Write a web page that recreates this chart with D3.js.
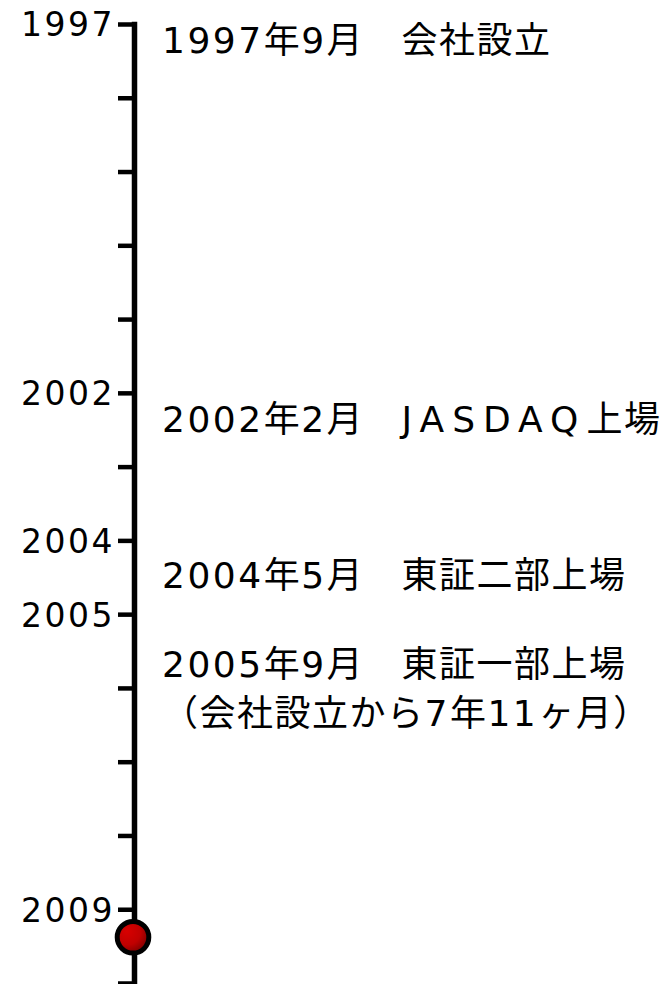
<!DOCTYPE html>
<html>
<head>
<meta charset="utf-8">
<script src="https://cdn.jsdelivr.net/npm/d3@7"></script>
<style>
  html, body { margin: 0; padding: 0; background: #fff; }
  svg { display: block; }
</style>
</head>
<body>
<svg id="chart" width="664" height="984"></svg>
<script>
// ---- data ----
const tickYears = [1997, 1998, 1999, 2000, 2001, 2002, 2003, 2004, 2005, 2006, 2007, 2008, 2009, 2010];
const labeledYears = [1997, 2002, 2004, 2005, 2009];
const eventLabels = [
  ["1997年9月　会社設立"],
  ["2002年2月　JASDAQ上場"],
  ["2004年5月　東証二部上場"],
  ["2005年9月　東証一部上場", "（会社設立から7年11ヶ月）"]
];
const eventPositions = [1997.39, 2002.53, 2004.65, 2005.85]; // text baseline, in axis years
const currentPosition = 2009.38;

// ---- layout ----
const axisX = 134;
const svg = d3.select("#chart");
const y = d3.scaleLinear().domain([1997, 2010]).range([24, 983]);

const fontFamily = "'DejaVu Sans', 'Noto Sans CJK JP', sans-serif";

// axis
const axis = d3.axisLeft(y)
  .tickValues(tickYears)
  .tickSize(16)
  .tickSizeOuter(0)
  .tickPadding(3)
  .tickFormat(d => labeledYears.includes(d) ? String(d) : "");

const g = svg.append("g")
  .attr("transform", `translate(${axisX},0)`)
  .call(axis);

g.select(".domain")
  .attr("stroke", "#000")
  .attr("stroke-width", 5.5)
  .attr("stroke-linecap", "square");
g.selectAll(".tick line")
  .attr("stroke", "#000")
  .attr("stroke-width", 4.5)
  .attr("x2", -16)
  .attr("x1", 2);
g.selectAll(".tick text")
  .attr("fill", "#000")
  .attr("dy", "0.36em")
  .style("font-family", fontFamily)
  .style("font-size", "33px")
  .style("letter-spacing", "2.5px");

// event texts
const evG = svg.append("g")
  .style("font-family", fontFamily)
  .style("font-size", "36px")
  .attr("fill", "#000");

eventLabels.forEach((lines, i) => {
  lines.forEach((line, j) => {
    const t = evG.append("text")
      .attr("x", 162)
      .attr("y", y(eventPositions[i]) + j * 49);
    const runs = line.match(/[0-9]+|[A-Za-z]+|[^0-9A-Za-z]+/g);
    runs.forEach(r => {
      const ts = t.append("tspan").text(r);
      if (/^[0-9]+$/.test(r)) ts.style("letter-spacing", "2.5px");
      else if (/^[A-Za-z]+$/.test(r)) ts.style("letter-spacing", "8px");
      else ts.style("letter-spacing", "1.5px");
    });
  });
});

// current marker
const defs = svg.append("defs");
const grad = defs.append("radialGradient")
  .attr("id", "redball")
  .attr("cx", "35%").attr("cy", "35%")
  .attr("fx", "30%").attr("fy", "30%")
  .attr("r", "75%");
grad.append("stop").attr("offset", "0%").attr("stop-color", "#d80000");
grad.append("stop").attr("offset", "55%").attr("stop-color", "#c00000");
grad.append("stop").attr("offset", "100%").attr("stop-color", "#700000");

svg.append("circle")
  .attr("cx", axisX - 1)
  .attr("cy", y(currentPosition))
  .attr("r", 15.8)
  .attr("fill", "url(#redball)")
  .attr("stroke", "#000")
  .attr("stroke-width", 5);
</script>
</body>
</html>
